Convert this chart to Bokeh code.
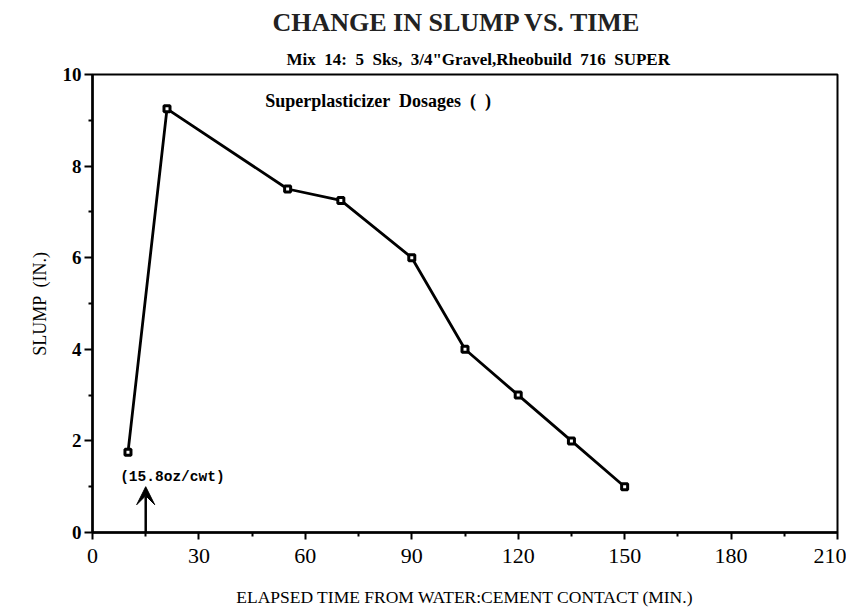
from bokeh.plotting import figure
from bokeh.models import Range1d, FixedTicker, Label, Arrow, VeeHead, Title
from bokeh.embed import file_html
from bokeh.resources import INLINE

# Data
time_min = [10, 21, 55, 70, 90, 105, 120, 135, 150]
slump_in = [1.75, 9.25, 7.5, 7.25, 6.0, 4.0, 3.0, 2.0, 1.0]

x_ticks = [0, 30, 60, 90, 120, 150, 180, 210]
x_minor = [15, 45, 75, 105, 135, 165, 195]
y_ticks = [0, 2, 4, 6, 8, 10]
y_minor = [1, 3, 5, 7, 9]

NB = "\u00a0"
title_text = "CHANGE IN SLUMP VS. TIME"
subtitle_text = f'Mix {NB}14: {NB}5 {NB}Sks, {NB}3/4"Gravel,Rheobuild {NB}716 {NB}SUPER'
dosage_text = f"Superplasticizer {NB}Dosages {NB}( {NB})"
dose_note = "(15.8oz/cwt)"
dose_time = 15

SERIF = "Liberation Serif"

p = figure(frame_width=745, frame_height=458,
           min_border_left=92, min_border_right=9, min_border_top=74, min_border_bottom=76,
           x_range=Range1d(0, 210), y_range=Range1d(0, 10),
           output_backend="svg", toolbar_location=None)
p.grid.visible = False
p.outline_line_color = "black"
p.outline_line_width = 2
p.background_fill_color = "white"
p.border_fill_color = "white"

p.add_layout(Title(text=subtitle_text, align="left", offset=194, standoff=11,
                   text_font=SERIF, text_font_style="bold", text_font_size="17px",
                   text_color="black"), "above")
p.add_layout(Title(text=title_text, align="left", offset=180, standoff=11,
                   text_font=SERIF, text_font_style="bold", text_font_size="26px",
                   text_color="#222222"), "above")

p.xaxis.ticker = FixedTicker(ticks=x_ticks, minor_ticks=x_minor)
p.yaxis.ticker = FixedTicker(ticks=y_ticks, minor_ticks=y_minor)
for ax in (p.xaxis, p.yaxis):
    ax.axis_line_width = 2.5
    ax.axis_line_color = "black"
    ax.major_tick_line_width = 2
    ax.minor_tick_line_width = 2
    ax.major_tick_in = 0
    ax.minor_tick_in = 0
    ax.major_label_text_color = "black"
    ax.axis_label_text_color = "black"
    ax.major_label_text_font = SERIF
    ax.axis_label_text_font = SERIF
    ax.axis_label_text_font_style = "normal"

p.xaxis.major_tick_out = 7
p.xaxis.minor_tick_out = 4
p.xaxis.major_label_text_font_size = "22px"
p.xaxis.major_label_standoff = 9
p.xaxis.axis_label = "ELAPSED TIME FROM WATER:CEMENT CONTACT (MIN.)"
p.xaxis.axis_label_text_font_size = "17.5px"
p.xaxis.axis_label_standoff = 21

p.yaxis.major_tick_out = 8
p.yaxis.minor_tick_out = 4
p.yaxis.major_label_text_font_size = "19px"
p.yaxis.major_label_text_font_style = "bold"
p.yaxis.major_label_standoff = 3
p.yaxis.axis_label = f"SLUMP {NB}(IN.)"
p.yaxis.axis_label_text_font_size = "18px"
p.yaxis.axis_label_standoff = 10

p.line(time_min, slump_in, line_color="black", line_width=2.8)
p.scatter(time_min, slump_in, marker="square", size=6, fill_color="white",
          line_color="black", line_width=3)

p.add_layout(Label(x=48.7, y=9.42, text=dosage_text, text_align="left", text_baseline="middle",
                   text_font=SERIF, text_font_style="bold", text_font_size="18px",
                   text_color="black"))
p.add_layout(Label(x=7.8, y=1.22, text=dose_note, text_align="left", text_baseline="middle",
                   text_font="Liberation Mono", text_font_style="bold", text_font_size="14.5px",
                   text_color="black"))
p.add_layout(Arrow(x_start=dose_time, y_start=0, x_end=dose_time, y_end=1.0,
                   line_width=2.5, line_color="black",
                   end=VeeHead(size=18, fill_color="black", line_color="black", line_width=1)))

open("out.html", "w").write(file_html(p, INLINE))
